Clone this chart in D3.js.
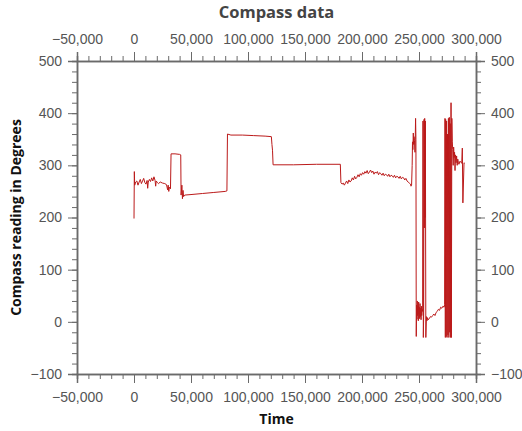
<!DOCTYPE html>
<html>
<head>
<meta charset="utf-8">
<script src="https://cdn.jsdelivr.net/npm/d3@7"></script>
<style>
  body { margin: 0; background: #fff; }
  svg { font-family: "Open Sans", "Noto Sans", sans-serif; }
  .axis path, .axis line { stroke: #6a6a6a; }
  .axis path { stroke-width: 1.5; }
  .axis text { fill: #555; font-size: 14px; }
  .title { fill: #444; font-weight: bold; font-size: 16.5px; }
  .label { fill: #111; font-weight: bold; font-size: 14px; }
</style>
</head>
<body>
<script>
  // time (x) and compass reading (y)
  var times = [
    0, 300, 600, 1500, 2500, 3500, 4500, 5500, 6500, 7500, 8500, 9500, 10500, 11500, 12000, 12500,
    13500, 14500, 15500, 16500, 17500, 18500, 19000, 19500, 20500, 21500, 23000, 25000, 27000, 28500,
    29500, 30000, 30500, 31000, 32000, 32500, 36000, 40000, 41000, 41300, 42000, 42500, 43000, 43500,
    44500, 50000, 60000, 70000, 80000, 81500, 82000, 85000, 95000, 105000, 115000, 120500, 121000,
    121500, 122000, 140000, 160000, 181000, 181500, 182500, 183500, 184500, 185500, 186500, 187500,
    188500, 189500, 190500, 191500, 192500, 193500, 194500, 195500, 196500, 197500, 198500, 199500,
    200500, 201500, 202500, 203500, 204500, 205500, 206500, 207500, 208500, 209500, 210500, 211500,
    212500, 213500, 214500, 215500, 216500, 217500, 218500, 219500, 220500, 221500, 222500, 223500,
    224500, 225500, 226500, 227500, 228500, 229500, 230500, 231500, 232500, 233500, 234500, 235500,
    236500, 237500, 238500, 239500, 240500, 241500, 242500, 243000,
    243500, 244000, 244300, 244600, 245000, 245300, 245600, 246000, 246500, 247000, 247300,
    247600, 247900, 248200, 248500, 248800, 249100, 249400, 249700, 250000, 250300, 250600, 250900,
    251200, 251500, 251800, 252100, 252400, 252800, 253200, 253500, 253800, 254100, 254400, 254700,
    255000, 255300, 255600, 256000, 256500, 257000, 257500, 258000, 259000, 260000, 261000, 262000,
    263000, 264000, 265000, 266000, 267000, 268000, 269000, 270000, 271000, 272000, 272500, 272800,
    273100, 273400, 273800, 274200, 274600, 275000, 275400, 275800, 276200, 276600, 277000, 277400,
    277800, 278100, 278400, 278800, 279200, 279600, 280000, 280400, 280800, 281200, 281600, 282000,
    282500, 283000, 283500, 284000, 284500, 285000, 286000, 287000, 287500, 288000, 288500, 289500,
    290000
  ];
  var readings = [
    198, 288, 262, 268, 270, 262, 268, 273, 265, 270, 275, 267, 264, 271, 256, 268,
    273, 269, 276, 270, 278, 271, 260, 270, 267, 265, 268, 266, 265, 263,
    253, 262, 250, 258, 255, 322, 322, 321, 320, 243, 262, 236, 252, 240,
    243, 244, 246, 248, 250, 251, 360, 358, 358, 357, 356, 355, 340,
    329, 301, 301, 302, 302, 267, 264, 266, 262, 266, 270, 265,
    272, 268, 270, 276, 272, 279, 274, 277, 282, 278, 284, 281,
    286, 283, 288, 285, 290, 284, 287, 291, 286, 289, 283, 287,
    285, 288, 282, 286, 284, 281, 285, 280, 283, 282, 279, 283,
    278, 281, 280, 277, 281, 276, 279, 278, 275, 279, 274, 277,
    276, 272, 275, 270, 268, 266, 264, 260,
    262, 300, 345, 330, 362, 340, 355, 348, 325, 390, 350,
    -28, 32, 5, 40, 12, 30, 2, 38, 15, 28, 6, 35,
    10, 26, 4, 30, 12, 24, 20, 385, -30, 15, 388, 180, 390,
    200, 385, -30, 10, 2, 8, 4, 6, 10, 9, 12, 15,
    12, 18, 20, 24, 22, 28, 26, 30, 28, 33, 390, -30,
    388, -28, 385, -30, 360, -25, 390, -30, 392, -20, 380, -30,
    420, -30, 390, 345, 330, 300, 335, 315, 325, 290, 320, 305,
    318, 300, 312, 306, 302, 308, 305, 304, 333, 228, 305, 304,
    304
  ];
  var xTicks = [-50000, 0, 50000, 100000, 150000, 200000, 250000, 300000];
  var yTicks = [-100, 0, 100, 200, 300, 400, 500];

  var data = times.map(function(t, i) { return { time: t, deg: readings[i] }; });

  var margin = { top: 61, right: 46, bottom: 57, left: 77 };
  var width = 522 - margin.left - margin.right,
    height = 431 - margin.top - margin.bottom;

  var svg = d3.select("body").append("svg")
    .attr("width", 522)
    .attr("height", 431)
    .append("g")
    .attr("transform", "translate(" + margin.left + "," + margin.top + ")");

  var x = d3.scaleLinear().domain([-50000, 300000]).range([0, width]);
  var y = d3.scaleLinear().domain([-100, 500]).range([height, 0]);

  var fmt = d3.format(",");
  var xMinor = d3.range(-50000, 300001, 10000);
  var yMinor = d3.range(-100, 501, 20);

  // minor ticks first, then the labelled axes on top
  svg.append("g").attr("class", "axis").attr("transform", "translate(0," + height + ")")
    .call(d3.axisBottom(x).tickValues(xMinor).tickSize(5).tickFormat(""));
  svg.append("g").attr("class", "axis")
    .call(d3.axisTop(x).tickValues(xMinor).tickSize(5).tickFormat(""));
  svg.append("g").attr("class", "axis")
    .call(d3.axisLeft(y).tickValues(yMinor).tickSize(5).tickFormat(""));
  svg.append("g").attr("class", "axis").attr("transform", "translate(" + width + ",0)")
    .call(d3.axisRight(y).tickValues(yMinor).tickSize(5).tickFormat(""));

  svg.append("g").attr("class", "axis").attr("transform", "translate(0," + height + ")")
    .call(d3.axisBottom(x).tickValues(xTicks).tickSize(9).tickPadding(9).tickFormat(fmt));
  svg.append("g").attr("class", "axis")
    .call(d3.axisTop(x).tickValues(xTicks).tickSize(9).tickPadding(8).tickFormat(fmt));
  svg.append("g").attr("class", "axis")
    .call(d3.axisLeft(y).tickValues(yTicks).tickSize(9).tickPadding(6));
  svg.append("g").attr("class", "axis").attr("transform", "translate(" + width + ",0)")
    .call(d3.axisRight(y).tickValues(yTicks).tickSize(9).tickPadding(6));

  svg.selectAll(".axis text").attr("font-family", null).attr("font-size", null);

  var line = d3.line()
    .x(function(d) { return x(d.time); })
    .y(function(d) { return y(d.deg); });

  svg.append("path")
    .datum(data)
    .attr("fill", "none")
    .attr("stroke", "#bb1a1a")
    .attr("stroke-width", 1)
    .attr("d", line);

  svg.append("text").attr("class", "title")
    .attr("x", width / 2).attr("y", -43)
    .attr("text-anchor", "middle")
    .text("Compass data");

  svg.append("text").attr("class", "label")
    .attr("x", width / 2).attr("y", height + 50)
    .attr("text-anchor", "middle")
    .text("Time");

  svg.append("text").attr("class", "label")
    .attr("transform", "rotate(-90)")
    .attr("x", -height / 2).attr("y", -56)
    .attr("text-anchor", "middle")
    .text("Compass reading in Degrees");
</script>
</body>
</html>
